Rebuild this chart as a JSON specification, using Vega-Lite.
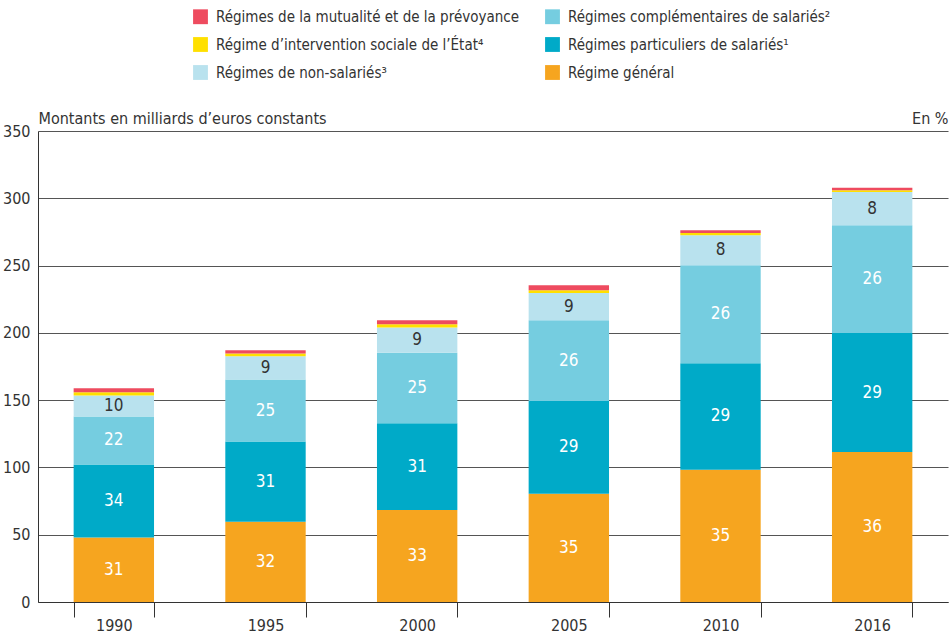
{
  "$schema": "https://vega.github.io/schema/vega-lite/v6.json",
  "width": 910,
  "height": 471,
  "autosize": "none",
  "padding": {"left": 38, "top": 131, "right": 4, "bottom": 32},
  "background": "white",
  "data": {"values": [
    {"year": "1990", "regime": "Régime général", "value": 48.0, "pct": 31},
    {"year": "1990", "regime": "Régimes particuliers de salariés¹", "value": 54.2, "pct": 34},
    {"year": "1990", "regime": "Régimes complémentaires de salariés²", "value": 35.7, "pct": 22},
    {"year": "1990", "regime": "Régimes de non-salariés³", "value": 15.6, "pct": 10},
    {"year": "1990", "regime": "Régime d’intervention sociale de l’État⁴", "value": 2.3, "pct": null},
    {"year": "1990", "regime": "Régimes de la mutualité et de la prévoyance", "value": 3.0, "pct": null},
    {"year": "1995", "regime": "Régime général", "value": 59.6, "pct": 32},
    {"year": "1995", "regime": "Régimes particuliers de salariés¹", "value": 59.6, "pct": 31},
    {"year": "1995", "regime": "Régimes complémentaires de salariés²", "value": 46.2, "pct": 25},
    {"year": "1995", "regime": "Régimes de non-salariés³", "value": 17.2, "pct": 9},
    {"year": "1995", "regime": "Régime d’intervention sociale de l’État⁴", "value": 2.0, "pct": null},
    {"year": "1995", "regime": "Régimes de la mutualité et de la prévoyance", "value": 2.4, "pct": null},
    {"year": "2000", "regime": "Régime général", "value": 68.3, "pct": 33},
    {"year": "2000", "regime": "Régimes particuliers de salariés¹", "value": 64.6, "pct": 31},
    {"year": "2000", "regime": "Régimes complémentaires de salariés²", "value": 52.4, "pct": 25},
    {"year": "2000", "regime": "Régimes de non-salariés³", "value": 18.7, "pct": 9},
    {"year": "2000", "regime": "Régime d’intervention sociale de l’État⁴", "value": 2.4, "pct": null},
    {"year": "2000", "regime": "Régimes de la mutualité et de la prévoyance", "value": 3.0, "pct": null},
    {"year": "2005", "regime": "Régime général", "value": 80.5, "pct": 35},
    {"year": "2005", "regime": "Régimes particuliers de salariés¹", "value": 68.8, "pct": 29},
    {"year": "2005", "regime": "Régimes complémentaires de salariés²", "value": 60.0, "pct": 26},
    {"year": "2005", "regime": "Régimes de non-salariés³", "value": 20.3, "pct": 9},
    {"year": "2005", "regime": "Régime d’intervention sociale de l’État⁴", "value": 2.0, "pct": null},
    {"year": "2005", "regime": "Régimes de la mutualité et de la prévoyance", "value": 3.7, "pct": null},
    {"year": "2010", "regime": "Régime général", "value": 98.3, "pct": 35},
    {"year": "2010", "regime": "Régimes particuliers de salariés¹", "value": 79.2, "pct": 29},
    {"year": "2010", "regime": "Régimes complémentaires de salariés²", "value": 72.7, "pct": 26},
    {"year": "2010", "regime": "Régimes de non-salariés³", "value": 22.3, "pct": 8},
    {"year": "2010", "regime": "Régime d’intervention sociale de l’État⁴", "value": 1.7, "pct": null},
    {"year": "2010", "regime": "Régimes de la mutualité et de la prévoyance", "value": 2.0, "pct": null},
    {"year": "2016", "regime": "Régime général", "value": 111.4, "pct": 36},
    {"year": "2016", "regime": "Régimes particuliers de salariés¹", "value": 88.5, "pct": 29},
    {"year": "2016", "regime": "Régimes complémentaires de salariés²", "value": 80.0, "pct": 26},
    {"year": "2016", "regime": "Régimes de non-salariés³", "value": 24.8, "pct": 8},
    {"year": "2016", "regime": "Régime d’intervention sociale de l’État⁴", "value": 1.2, "pct": null},
    {"year": "2016", "regime": "Régimes de la mutualité et de la prévoyance", "value": 2.0, "pct": null}
  ]},
  "transform": [
    {"calculate": "indexof(['Régime général','Régimes particuliers de salariés¹','Régimes complémentaires de salariés²','Régimes de non-salariés³','Régime d’intervention sociale de l’État⁴','Régimes de la mutualité et de la prévoyance'], datum.regime)", "as": "rank"},
    {"stack": "value", "groupby": ["year"], "sort": [{"field": "rank", "order": "ascending"}], "as": ["v0", "v1"]},
    {"calculate": "(datum.v0 + datum.v1) / 2", "as": "mid"}
  ],
  "encoding": {
    "x": {
      "field": "year", "type": "nominal", "title": null,
      "scale": {"paddingInner": 0.47, "paddingOuter": 0.235},
      "axis": {"labelAngle": 0, "tickBand": "extent", "tickSize": 15, "tickColor": "#333", "domainColor": "#333", "labelFontSize": 16, "labelColor": "#333", "labelPadding": 0}
    }
  },
  "layer": [
    {
      "mark": {"type": "bar"},
      "encoding": {
        "y": {
          "field": "v0", "type": "quantitative",
          "scale": {"domain": [0, 350]},
          "axis": {
            "values": [0, 50, 100, 150, 200, 250, 300, 350],
            "grid": true, "gridColor": "#555", "gridWidth": 1.2,
            "ticks": false, "labelPadding": 8, "labelFontSize": 16, "labelColor": "#333",
            "domainColor": "#333",
            "title": "Montants en milliards d’euros constants",
            "titleAngle": 0, "titleAlign": "left", "titleBaseline": "alphabetic",
            "titleX": 0, "titleY": -8, "titleFontSize": 16, "titleFontWeight": "normal", "titleColor": "#333"
          }
        },
        "y2": {"field": "v1"},
        "color": {
          "field": "regime", "type": "nominal",
          "scale": {
            "domain": ["Régimes de la mutualité et de la prévoyance", "Régime d’intervention sociale de l’État⁴", "Régimes de non-salariés³", "Régimes complémentaires de salariés²", "Régimes particuliers de salariés¹", "Régime général"],
            "range": ["#ee4b5f", "#ffe000", "#b9e2ee", "#75cde0", "#00aac8", "#f6a51f"]
          },
          "legend": {
            "title": null, "orient": "none", "legendX": 155, "legendY": -122,
            "columns": 2, "columnPadding": 26, "rowPadding": 12,
            "symbolType": "square", "symbolSize": 220, "symbolStrokeWidth": 0, "symbolOpacity": 1,
            "labelFontSize": 15, "labelColor": "#333", "labelOffset": 8, "labelLimit": 400
          }
        }
      }
    },
    {
      "transform": [{"filter": "datum.pct != null"}],
      "mark": {"type": "text", "fontSize": 17, "baseline": "middle", "align": "center"},
      "encoding": {
        "y": {
          "field": "mid", "type": "quantitative",
          "axis": {
            "orient": "right", "labels": false, "ticks": false, "domain": false, "grid": false,
            "title": "En %", "titleAngle": 0, "titleAlign": "right", "titleBaseline": "alphabetic",
            "titleX": 0, "titleY": -8, "titleFontSize": 16, "titleFontWeight": "normal", "titleColor": "#333"
          }
        },
        "text": {"field": "pct", "type": "quantitative"},
        "color": {"condition": {"test": "datum.regime === 'Régimes de non-salariés³'", "value": "#333"}, "value": "white"}
      }
    }
  ],
  "resolve": {"axis": {"y": "independent"}},
  "config": {
    "font": "DejaVu Sans Condensed, Liberation Sans, sans-serif",
    "view": {"stroke": null},
    "axis": {"labelFont": "DejaVu Sans Condensed, sans-serif", "titleFont": "DejaVu Sans Condensed, sans-serif"},
    "legend": {"labelFont": "DejaVu Sans Condensed, sans-serif"},
    "text": {"font": "DejaVu Sans Condensed, sans-serif"}
  }
}
